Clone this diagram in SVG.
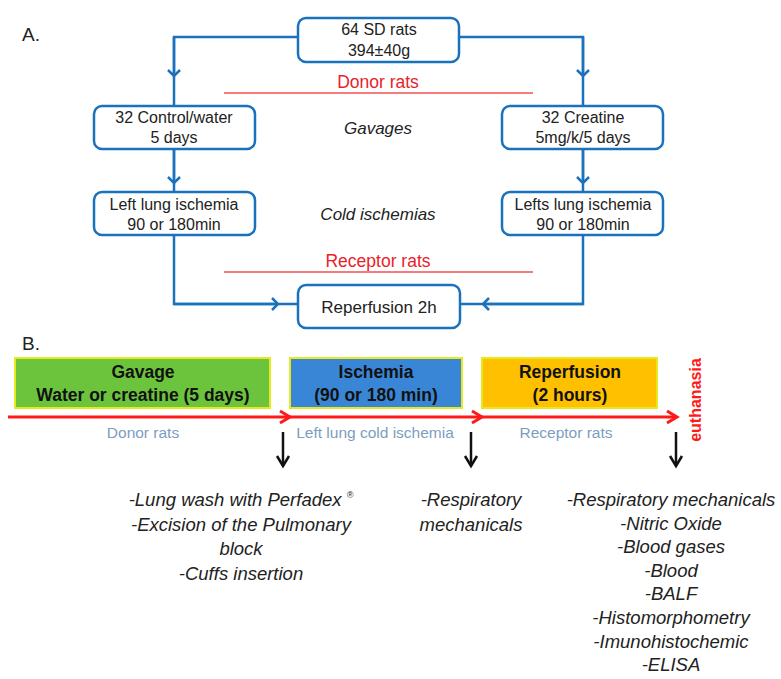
<svg xmlns="http://www.w3.org/2000/svg" width="781" height="679" viewBox="0 0 781 679">
<defs>
<marker id="bchev" markerWidth="14" markerHeight="14" refX="7" refY="7" orient="auto" markerUnits="userSpaceOnUse">
<path d="M1,1 L7,7 L1,13" fill="none" stroke="#1a72bd" stroke-width="2.5"/>
</marker>
<marker id="rchev" markerWidth="16" markerHeight="16" refX="12" refY="8" orient="auto" markerUnits="userSpaceOnUse">
<path d="M2,2 L12,8 L2,14" fill="none" stroke="#ff1a1a" stroke-width="3"/>
</marker>
<marker id="kchev" markerWidth="16" markerHeight="16" refX="12" refY="8" orient="auto" markerUnits="userSpaceOnUse">
<path d="M2,2 L12,8 L2,14" fill="none" stroke="#111" stroke-width="2.5"/>
</marker>
<style>
.box{fill:#fff;stroke:#1a72bd;stroke-width:2.5}
.t{font-family:"Liberation Sans",Arial,sans-serif;font-size:16px;fill:#222;text-anchor:middle}
.it{font-family:"Liberation Sans",Arial,sans-serif;font-size:17px;font-style:italic;fill:#222;text-anchor:middle}
.red{font-family:"Liberation Sans",Arial,sans-serif;font-size:17.5px;fill:#e8222a;text-anchor:middle}
.lbl{font-family:"Liberation Sans",Arial,sans-serif;font-size:19px;fill:#222}
.bb{font-family:"Liberation Sans",Arial,sans-serif;font-size:17.5px;font-weight:bold;fill:#111;text-anchor:middle}
.gb{font-family:"Liberation Sans",Arial,sans-serif;font-size:15.5px;fill:#7b9ebf;text-anchor:middle}
.li{font-family:"Liberation Sans",Arial,sans-serif;font-size:18.5px;font-style:italic;fill:#222;text-anchor:middle}
.conn{fill:none;stroke:#1a72bd;stroke-width:2.5}
</style>
</defs>
<rect width="781" height="679" fill="#fff"/>
<text class="lbl" x="22" y="41">A.</text>
<text class="lbl" x="22" y="350">B.</text>

<g id="connectors">
<path class="conn" d="M298,37 L174,37 L174,106" />
<path class="conn" d="M174,37 L174,76" marker-end="url(#bchev)"/>
<path class="conn" d="M459,37 L583,37 L583,106"/>
<path class="conn" d="M583,37 L583,76" marker-end="url(#bchev)"/>
<path class="conn" d="M174,149 L174,192"/>
<path class="conn" d="M174,149 L174,183" marker-end="url(#bchev)"/>
<path class="conn" d="M583,149 L583,192"/>
<path class="conn" d="M583,149 L583,183" marker-end="url(#bchev)"/>
<path class="conn" d="M174,235 L174,304 L298,304"/>
<path class="conn" d="M174,304 L278,304" marker-end="url(#bchev)"/>
<path class="conn" d="M583,235 L583,304 L460,304"/>
<path class="conn" d="M583,304 L483,304" marker-end="url(#bchev)"/>
<line x1="224" y1="93" x2="533" y2="93" stroke="#f05050" stroke-width="1.5"/>
<line x1="224" y1="272" x2="533" y2="272" stroke="#f05050" stroke-width="1.5"/>
<line x1="8" y1="417" x2="290" y2="417" stroke="#ff1a1a" stroke-width="3" marker-end="url(#rchev)"/>
<line x1="288" y1="417" x2="482" y2="417" stroke="#ff1a1a" stroke-width="3" marker-end="url(#rchev)"/>
<line x1="480" y1="417" x2="677" y2="417" stroke="#ff1a1a" stroke-width="3" marker-end="url(#rchev)"/>
<line x1="283" y1="432" x2="283" y2="466" stroke="#111" stroke-width="2.5" marker-end="url(#kchev)"/>
<line x1="471" y1="432" x2="471" y2="466" stroke="#111" stroke-width="2.5" marker-end="url(#kchev)"/>
<line x1="676" y1="432" x2="676" y2="466" stroke="#111" stroke-width="2.5" marker-end="url(#kchev)"/>
</g>

<g id="n-top">
<rect class="box" x="298" y="18" width="161" height="44" rx="8"/>
<text class="t" x="379" y="35">64 SD rats</text>
<text class="t" x="379" y="56">394±40g</text>
</g>
<g id="donor-label"><text class="red" x="378" y="88">Donor rats</text></g>
<g id="n-control">
<rect class="box" x="94" y="106" width="161" height="43" rx="8"/>
<text class="t" x="174" y="123">32 Control/water</text>
<text class="t" x="174" y="143">5 days</text>
</g>
<g id="n-creatine">
<rect class="box" x="502" y="106" width="161" height="43" rx="8"/>
<text class="t" x="583" y="123">32 Creatine</text>
<text class="t" x="583" y="143">5mg/k/5 days</text>
</g>
<g id="gavages"><text class="it" x="378" y="134">Gavages</text></g>
<g id="n-left-isch">
<rect class="box" x="94" y="192" width="161" height="43" rx="8"/>
<text class="t" x="174" y="210">Left lung ischemia</text>
<text class="t" x="174" y="230">90 or 180min</text>
</g>
<g id="n-right-isch">
<rect class="box" x="502" y="192" width="161" height="43" rx="8"/>
<text class="t" x="583" y="210">Lefts lung ischemia</text>
<text class="t" x="583" y="230">90 or 180min</text>
</g>
<g id="cold"><text class="it" x="378" y="220">Cold ischemias</text></g>
<g id="receptor-label"><text class="red" x="378" y="267">Receptor rats</text></g>
<g id="n-reperf">
<rect class="box" x="298" y="285" width="162" height="43" rx="8"/>
<text class="t" x="379" y="313" style="font-size:17px">Reperfusion 2h</text>
</g>

<g id="b-gavage">
<rect x="15" y="358" width="255" height="50" fill="#6cc43c" stroke="#e8e820" stroke-width="2"/>
<text class="bb" x="143" y="378">Gavage</text>
<text class="bb" x="143" y="401">Water or creatine (5 days)</text>
</g>
<g id="b-ischemia">
<rect x="290" y="358" width="172" height="50" fill="#3a86d6" stroke="#e8e820" stroke-width="2"/>
<text class="bb" x="376" y="378">Ischemia</text>
<text class="bb" x="376" y="401">(90 or  180 min)</text>
</g>
<g id="b-reperf">
<rect x="482" y="358" width="175" height="50" fill="#ffc000" stroke="#e8e820" stroke-width="2"/>
<text class="bb" x="570" y="378">Reperfusion</text>
<text class="bb" x="570" y="401">(2 hours)</text>
</g>
<g id="euth">
<text transform="translate(701,400) rotate(-90)" style="font-family:'Liberation Sans',Arial,sans-serif;font-size:16px;font-weight:bold;fill:#ff1a1a;text-anchor:middle">euthanasia</text>
</g>
<g id="b-labels">
<text class="gb" x="143" y="438">Donor rats</text>
<text class="gb" x="375" y="438">Left lung cold ischemia</text>
<text class="gb" x="566" y="438">Receptor rats</text>
</g>
<g id="list1">
<text class="li" x="241" y="506">-Lung wash with Perfadex <tspan font-size="9" dy="-8">®</tspan></text>
<text class="li" x="241" y="531">-Excision of the Pulmonary</text>
<text class="li" x="241" y="555">block</text>
<text class="li" x="241" y="580">-Cuffs insertion</text>
</g>
<g id="list2">
<text class="li" x="471" y="506">-Respiratory</text>
<text class="li" x="471" y="531">mechanicals</text>
</g>
<g id="list3">
<text class="li" x="671" y="506">-Respiratory mechanicals</text>
<text class="li" x="671" y="530">-Nitric Oxide</text>
<text class="li" x="671" y="553">-Blood gases</text>
<text class="li" x="671" y="577">-Blood</text>
<text class="li" x="671" y="600">-BALF</text>
<text class="li" x="671" y="624">-Histomorphometry</text>
<text class="li" x="671" y="648">-Imunohistochemic</text>
<text class="li" x="671" y="671">-ELISA</text>
</g>
</svg>
